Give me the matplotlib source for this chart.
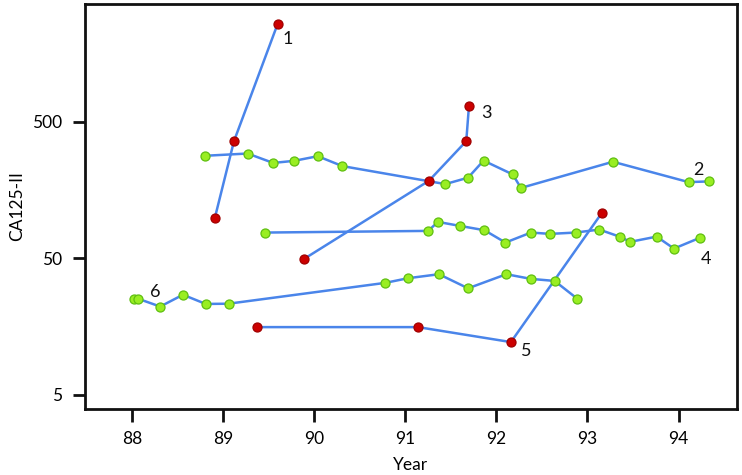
import matplotlib
matplotlib.use("Agg")
import matplotlib.pyplot as plt
from matplotlib.ticker import FixedLocator, NullLocator

# data (year, CA125-II)
s1_x = [88.91, 89.12, 89.60]
s1_y = [99, 361, 2612]

s2_x = [88.80, 89.27, 89.55, 89.78, 90.04, 90.31, 91.44, 91.69, 91.86, 92.18, 92.27, 93.28, 94.11, 94.33]
s2_y = [282, 293, 250, 259, 280, 237, 175, 195, 260, 206, 164, 255, 181, 183]

s3_x = [89.89, 91.26, 91.67, 91.70]
s3_y = [49.6, 185, 361, 658]

s4_x = [89.46, 91.25, 91.36, 91.60, 91.87, 92.10, 92.38, 92.59, 92.87, 93.13, 93.36, 93.47, 93.76, 93.95, 94.24]
s4_y = [77.3, 79.5, 92.5, 86.5, 80.4, 65.3, 77.3, 75.6, 77.3, 81.3, 71.9, 66.1, 72.2, 59.0, 71.0]

s5_x = [89.37, 91.14, 92.16, 93.16]
s5_y = [15.7, 15.7, 12.2, 108]

s6_x = [88.02, 88.07, 88.31, 88.56, 88.81, 89.06, 90.78, 91.03, 91.37, 91.69, 92.11, 92.38, 92.64, 92.89]
s6_y = [25.3, 25.3, 22.2, 27.1, 23.2, 23.3, 33.1, 35.8, 38.3, 30.2, 38.3, 35.4, 34.2, 25.3]

series = [
    ("1", s1_x, s1_y, "red", -1, (10, -15)),
    ("2", s2_x, s2_y, "green", -2, (10, 12)),
    ("3", s3_x, s3_y, "red", -1, (17, -7)),
    ("4", s4_x, s4_y, "green", -1, (6, -21)),
    ("5", s5_x, s5_y, "red", 2, (15, -9)),
    ("6", s6_x, s6_y, "green", 1, (17, 7)),
]

line_col = "#4a85ea"
marker_style = {
    "red": dict(markerfacecolor="#cc0000", markeredgecolor="#a00000"),
    "green": dict(markerfacecolor="#99ee22", markeredgecolor="#5fbf10"),
}

plt.rcParams["font.family"] = ["Lato", "DejaVu Sans"]

fig = plt.figure(figsize=(7.42, 4.75), dpi=100)
ax = fig.add_axes([0.114, 0.139, 0.879, 0.853])

for label, xs, ys, kind, idx, off in series:
    ax.plot(xs, ys, color=line_col, lw=1.8, marker="o", markersize=6.5,
            markeredgewidth=0.9, zorder=3, **marker_style[kind])
    ax.annotate(label, (xs[idx], ys[idx]), xytext=off, textcoords="offset pixels",
                ha="center", va="center", fontsize=13, color="#111111")

ax.set_yscale("log")
ax.set_xlim(87.48, 94.64)
ax.set_ylim(3.95, 3656)
ax.yaxis.set_major_locator(FixedLocator([5, 50, 500]))
ax.yaxis.set_minor_locator(NullLocator())
ax.set_yticklabels(["5", "50", "500"])
ax.set_xticks(range(88, 95))
ax.set_xticklabels([str(v) for v in range(88, 95)])

for sp in ax.spines.values():
    sp.set_linewidth(2)
    sp.set_color("#111111")
ax.tick_params(direction="out", length=9, width=2, labelsize=12.5, color="#111111", pad=7)

ax.set_xlabel("Year", fontsize=12.5, labelpad=7)
ax.set_ylabel("CA125-II", fontsize=12.5, labelpad=5)

fig.savefig("out.png", dpi=100)
